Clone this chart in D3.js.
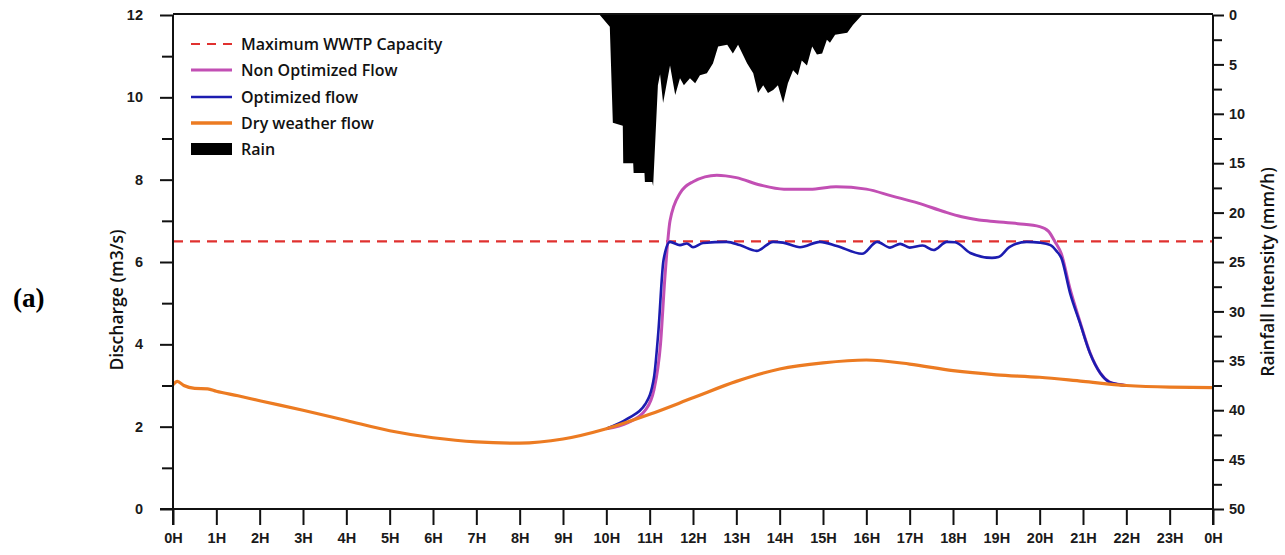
<!DOCTYPE html>
<html>
<head>
<meta charset="utf-8">
<script src="https://cdn.jsdelivr.net/npm/d3@7"></script>
<style>
  body { margin: 0; background: #fff; }
  svg { display: block; }
</style>
</head>
<body>
<svg></svg>
<script>
// hours of the day and their tick labels
var hourTicks = d3.range(0, 25);
var hourLabels = ["0H","1H","2H","3H","4H","5H","6H","7H","8H","9H","10H","11H","12H",
                  "13H","14H","15H","16H","17H","18H","19H","20H","21H","22H","23H","0H"];

// dry weather flow (m3/s)
var dryHours = [0, 0.1, 0.25, 0.5, 0.8, 1, 1.5, 2, 3, 4, 5, 6, 7, 8, 9, 10, 11, 12, 13, 14, 15, 16, 17, 18, 19, 20, 21, 22, 23, 24];
var dryFlow  = [3.02, 3.1, 3.0, 2.93, 2.92, 2.86, 2.75, 2.63, 2.4, 2.15, 1.9, 1.73, 1.63, 1.6, 1.7, 1.95, 2.3, 2.7, 3.1, 3.4, 3.55, 3.62, 3.52, 3.36, 3.26, 3.2, 3.1, 3.0, 2.96, 2.95];

// non optimized flow (m3/s)
var nonOptHours = [10, 10.5, 10.9, 11.1, 11.25, 11.35, 11.47, 11.7, 12.0, 12.55, 13.0, 13.55, 14.1, 14.7, 15.3, 16.0, 16.6, 17.2, 17.8, 18.2, 18.6, 19.0, 19.5, 20.0, 20.2, 20.35, 20.5, 20.7, 20.93, 21.16, 21.4, 21.6, 21.8, 22.0];
var nonOptFlow  = [1.95, 2.1, 2.4, 2.9, 4.0, 5.6, 7.0, 7.67, 7.95, 8.11, 8.05, 7.87, 7.77, 7.77, 7.83, 7.77, 7.6, 7.43, 7.22, 7.1, 7.02, 6.98, 6.93, 6.86, 6.75, 6.5, 6.2, 5.35, 4.55, 3.8, 3.3, 3.09, 3.03, 3.0];

// optimized flow (m3/s)
var optHours = [10, 10.5, 10.9, 11.1, 11.2, 11.32, 11.47, 11.7, 11.86, 12.0, 12.23, 12.78, 13.08, 13.47, 13.85, 14.08, 14.47, 14.93, 15.32, 15.9, 16.25, 16.55, 16.78, 17.0, 17.3, 17.55, 17.86, 18.05, 18.4, 18.9, 19.05, 19.3, 19.7, 20.0, 20.25, 20.4, 20.5, 20.7, 20.93, 21.16, 21.4, 21.6, 21.8, 22.0];
var optFlow  = [1.95, 2.2, 2.55, 3.2, 4.3, 6.05, 6.49, 6.41, 6.45, 6.36, 6.46, 6.49, 6.41, 6.27, 6.49, 6.47, 6.36, 6.49, 6.39, 6.2, 6.49, 6.35, 6.44, 6.35, 6.4, 6.29, 6.49, 6.48, 6.22, 6.1, 6.12, 6.36, 6.49, 6.47, 6.41, 6.25, 6.1, 5.25, 4.52, 3.79, 3.3, 3.09, 3.03, 3.0];

// maximum WWTP capacity (m3/s)
var capacity = 6.5;

// rainfall intensity (mm/h)
var rainHours = [9.85, 10.08, 10.15, 10.38, 10.39, 10.62, 10.63, 10.88, 10.89, 11.06, 11.08, 11.19, 11.24, 11.31, 11.47, 11.59, 11.70, 11.79, 11.93, 12.05, 12.16, 12.32, 12.46, 12.58, 12.79, 12.92, 13.04, 13.25, 13.39, 13.50, 13.62, 13.73, 13.85, 13.96, 14.08, 14.19, 14.31, 14.42, 14.51, 14.63, 14.75, 14.86, 14.98, 15.09, 15.16, 15.28, 15.56, 15.69, 15.90];
var rainIntensity = [0, 1.2, 10.9, 11.2, 15.0, 15.0, 16.0, 16.0, 16.9, 16.9, 17.3, 7.1, 6.0, 8.9, 5.1, 8.1, 6.4, 7.1, 6.4, 6.9, 6.1, 5.9, 4.9, 3.2, 3.0, 3.9, 3.0, 4.9, 5.9, 7.9, 7.1, 7.9, 7.6, 7.1, 8.9, 6.9, 5.6, 6.1, 4.6, 5.1, 3.2, 4.0, 3.9, 2.5, 2.8, 2.0, 1.8, 1.0, 0];

var legendLabels = ["Maximum WWTP Capacity", "Non Optimized Flow", "Optimized flow", "Dry weather flow", "Rain"];

var width = 1285, height = 555;
var plotLeft = 173, plotRight = 1213, plotTop = 15, plotBottom = 509;

var svg = d3.select('svg')
    .attr('width', width)
    .attr('height', height);

var x = d3.scaleLinear().domain([0, 24]).range([plotLeft, plotRight]);
var y = d3.scaleLinear().domain([0, 12]).range([plotBottom, plotTop]);
var yRain = d3.scaleLinear().domain([0, 50]).range([plotTop, plotBottom]);

var tickFont = "'Liberation Sans', Arial, sans-serif";
var labelFont = "'Open Sans', 'Noto Sans', sans-serif";

function pairs(xs, ys) {
    return xs.map(function(d, i) { return [d, ys[i]]; });
}

// rain hanging from the top
var rainArea = d3.area()
    .x(function(d) { return x(d[0]); })
    .y0(yRain(0))
    .y1(function(d) { return yRain(d[1]); });

svg.append('path')
    .datum(pairs(rainHours, rainIntensity))
    .attr('d', rainArea)
    .attr('fill', '#000');

// capacity line
svg.append('line')
    .attr('x1', x(0)).attr('x2', x(24))
    .attr('y1', y(capacity)).attr('y2', y(capacity))
    .attr('stroke', '#e0312f')
    .attr('stroke-width', 2.2)
    .attr('stroke-dasharray', '10,7');

var line = d3.line()
    .x(function(d) { return x(d[0]); })
    .y(function(d) { return y(d[1]); })
    .curve(d3.curveMonotoneX);

svg.append('path')
    .datum(pairs(nonOptHours, nonOptFlow))
    .attr('d', line)
    .attr('fill', 'none')
    .attr('stroke', '#c24fb4')
    .attr('stroke-width', 3);

svg.append('path')
    .datum(pairs(optHours, optFlow))
    .attr('d', line)
    .attr('fill', 'none')
    .attr('stroke', '#1c1cb0')
    .attr('stroke-width', 2.6);

svg.append('path')
    .datum(pairs(dryHours, dryFlow))
    .attr('d', line)
    .attr('fill', 'none')
    .attr('stroke', '#ec7b22')
    .attr('stroke-width', 3.2);

// axes
var axisColor = '#111';

svg.append('g')
    .attr('transform', 'translate(' + plotLeft + ',0)')
    .call(d3.axisLeft(y).tickValues(d3.range(0, 13, 2)).tickSize(13).tickPadding(17));
svg.append('g')
    .attr('transform', 'translate(' + plotLeft + ',0)')
    .call(d3.axisLeft(y).tickValues(d3.range(1, 12, 2)).tickSize(11).tickFormat(''));

svg.append('g')
    .attr('transform', 'translate(' + plotRight + ',0)')
    .call(d3.axisRight(yRain).tickValues(d3.range(0, 51, 5)).tickSize(11).tickPadding(5));
svg.append('g')
    .attr('transform', 'translate(' + plotRight + ',0)')
    .call(d3.axisRight(yRain).tickValues(d3.range(2.5, 50, 5)).tickSize(9).tickFormat(''));

svg.append('g')
    .attr('transform', 'translate(0,' + plotBottom + ')')
    .call(d3.axisBottom(x).tickValues(hourTicks).tickSize(16).tickPadding(8)
        .tickFormat(function(d, i) { return hourLabels[i]; }));

svg.selectAll('.domain').remove();
svg.selectAll('.tick line').attr('stroke', axisColor).attr('stroke-width', 2);
svg.selectAll('.tick text')
    .attr('fill', '#1a1a1a')
    .style('font-family', tickFont)
    .style('font-weight', 'bold')
    .style('font-size', '14.5px');

// frame lines
svg.append('line')
    .attr('x1', plotLeft).attr('x2', plotLeft).attr('y1', plotTop).attr('y2', plotBottom + 16)
    .attr('stroke', axisColor).attr('stroke-width', 2);
svg.append('line')
    .attr('x1', plotRight).attr('x2', plotRight).attr('y1', plotTop).attr('y2', plotBottom + 16)
    .attr('stroke', axisColor).attr('stroke-width', 2);
svg.append('line')
    .attr('x1', plotLeft - 13).attr('x2', plotRight).attr('y1', plotBottom).attr('y2', plotBottom)
    .attr('stroke', axisColor).attr('stroke-width', 2);
svg.append('line')
    .attr('x1', plotLeft).attr('x2', plotRight).attr('y1', plotTop - 1).attr('y2', plotTop - 1)
    .attr('stroke', axisColor).attr('stroke-width', 2);

// axis titles
svg.append('text')
    .attr('transform', 'translate(123,300) rotate(-90)')
    .attr('text-anchor', 'middle')
    .style('font-family', labelFont)
    .style('font-weight', 600)
    .style('font-size', '17.5px')
    .attr('fill', '#111')
    .text('Discharge (m3/s)');

svg.append('text')
    .attr('transform', 'translate(1274,272) rotate(-90)')
    .attr('text-anchor', 'middle')
    .style('font-family', labelFont)
    .style('font-weight', 600)
    .style('font-size', '17.5px')
    .attr('fill', '#111')
    .text('Rainfall Intensity (mm/h)');

svg.append('text')
    .attr('x', 13)
    .attr('y', 307)
    .style('font-family', "'Liberation Serif', 'Times New Roman', serif")
    .style('font-weight', 'bold')
    .style('font-size', '27px')
    .attr('fill', '#000')
    .text('(a)');

// legend
var legendY = [44, 70, 97, 123, 149];
var legend = svg.append('g');

legend.append('line')
    .attr('x1', 191).attr('x2', 232).attr('y1', legendY[0]).attr('y2', legendY[0])
    .attr('stroke', '#e0312f').attr('stroke-width', 2.2).attr('stroke-dasharray', '9,7');
legend.append('line')
    .attr('x1', 191).attr('x2', 232).attr('y1', legendY[1]).attr('y2', legendY[1])
    .attr('stroke', '#c24fb4').attr('stroke-width', 3.2);
legend.append('line')
    .attr('x1', 191).attr('x2', 232).attr('y1', legendY[2]).attr('y2', legendY[2])
    .attr('stroke', '#1c1cb0').attr('stroke-width', 2.6);
legend.append('line')
    .attr('x1', 191).attr('x2', 232).attr('y1', legendY[3]).attr('y2', legendY[3])
    .attr('stroke', '#ec7b22').attr('stroke-width', 3.4);
legend.append('rect')
    .attr('x', 191).attr('y', legendY[4] - 6).attr('width', 41).attr('height', 12)
    .attr('fill', '#000');

legend.selectAll('text')
    .data(legendLabels)
    .enter()
    .append('text')
    .attr('x', 241)
    .attr('y', function(d, i) { return legendY[i] + 6; })
    .style('font-family', labelFont)
    .style('font-weight', 600)
    .style('font-size', '16px')
    .attr('fill', '#111')
    .text(function(d) { return d; });
</script>
</body>
</html>
